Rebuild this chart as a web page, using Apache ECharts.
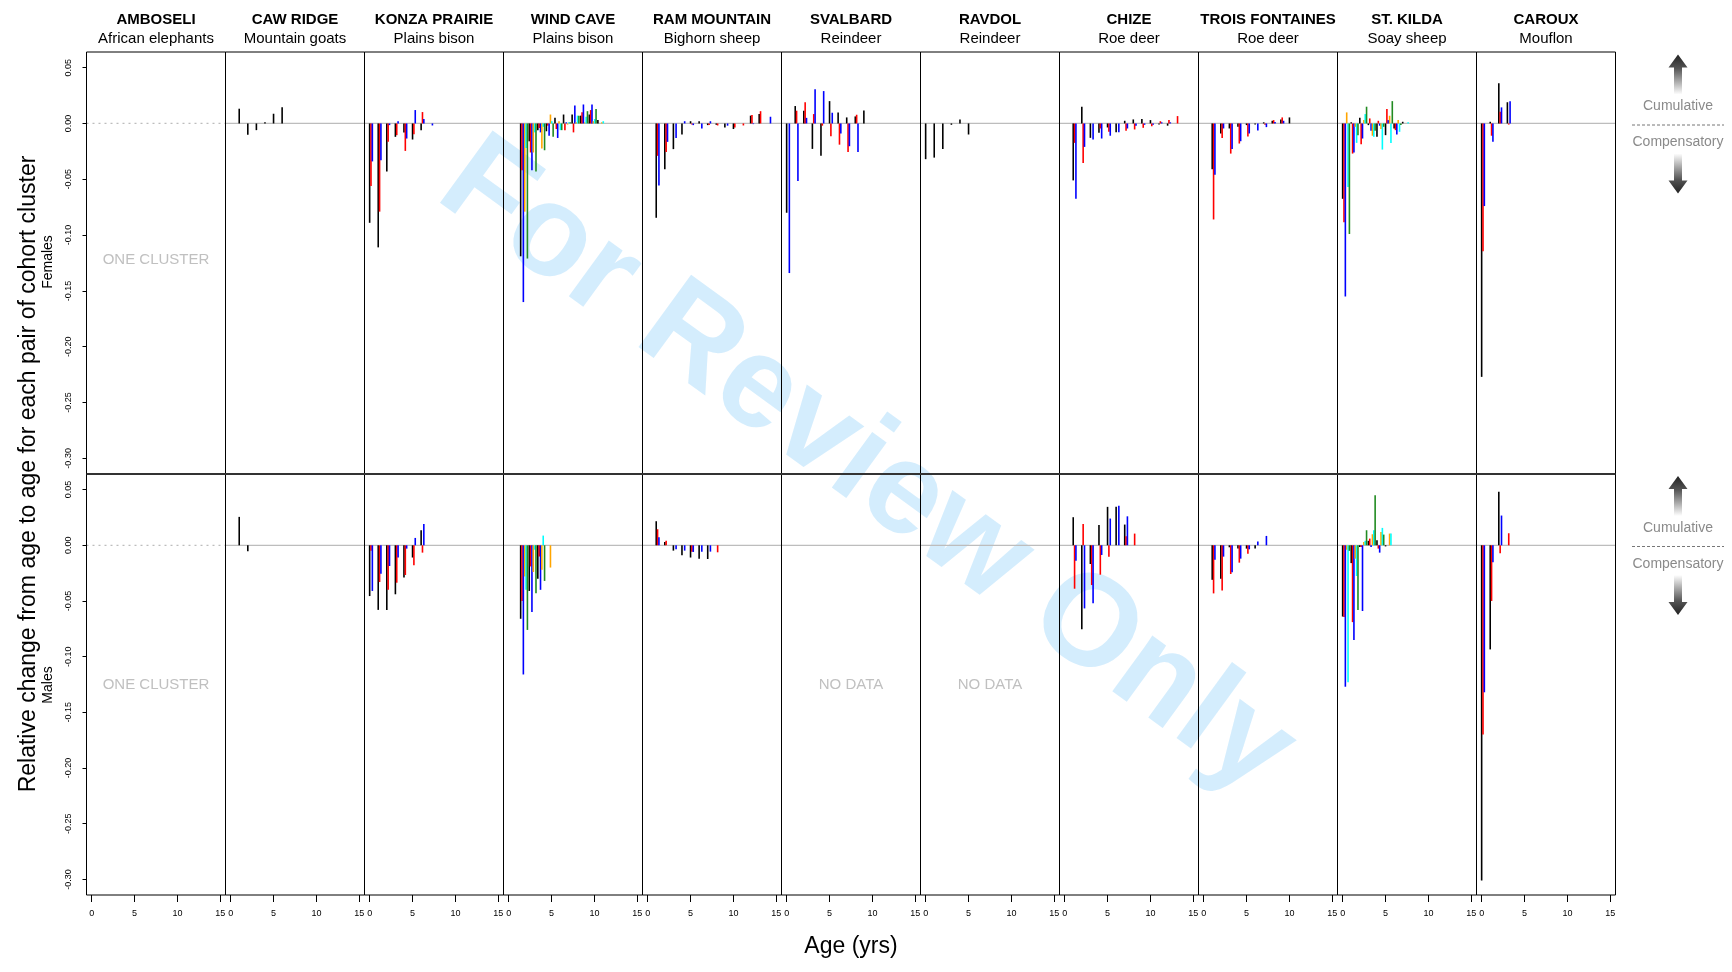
<!DOCTYPE html>
<html>
<head>
<meta charset="utf-8">
<script src="https://cdn.jsdelivr.net/npm/echarts@6/dist/echarts.min.js"></script>
<style>
  html, body { margin: 0; padding: 0; background: #ffffff; }
  #chart { width: 1732px; height: 972px; }
</style>
</head>
<body>
<div id="chart"></div>
<script>
// Study sites (columns) and species
const sites = ['AMBOSELI', 'CAW RIDGE', 'KONZA PRAIRIE', 'WIND CAVE', 'RAM MOUNTAIN', 'SVALBARD',
  'RAVDOL', 'CHIZE', 'TROIS FONTAINES', 'ST. KILDA', 'CAROUX'];
const species = ['African elephants', 'Mountain goats', 'Plains bison', 'Plains bison', 'Bighorn sheep',
  'Reindeer', 'Reindeer', 'Roe deer', 'Roe deer', 'Soay sheep', 'Mouflon'];

// Axis ticks
const ageTicks = [0, 5, 10, 15];
const changeTicks = [0.05, 0.00, -0.05, -0.10, -0.15, -0.20, -0.25, -0.30];

// Cohort-cluster pairs, in drawing order within each age
const pairOrder = ['black', 'red', 'blue', 'orange', 'cyan', 'green'];
const pairColors = ['#000000', '#ff0000', '#0000ff', '#ffa500', '#00ffff', '#228b22'];

// ---- Females: relative change from age to age (index 0 = firstAge) ----
const cawRidgeF = { firstAge: 1,
  black: [0.0132, -0.0102, -0.006, 0.001, 0.0087, 0.0144] };
const konzaF = { firstAge: 0,
  black: [-0.089, -0.111, -0.043, -0.012, -0.008, -0.0144, -0.006, null],
  red:   [-0.056, -0.079, -0.0165, -0.0105, -0.0246, -0.0096, 0.0102, null],
  blue:  [-0.034, -0.033, -0.0015, 0.002, -0.0135, 0.012, 0.004, -0.0018] };
const windCaveF = { firstAge: 1.4,
  black:  [-0.119, -0.016, -0.006, -0.007, 0.005, 0.008, 0.008, 0.007, 0.008, 0.003],
  red:    [-0.042, -0.026, -0.004, -0.002, -0.005, -0.006, -0.008, 0.010, 0.012, null],
  blue:   [-0.160, -0.042, -0.008, -0.011, -0.013, 0.001, 0.016, 0.017, 0.017, null],
  orange: [-0.079, -0.026, -0.0225, 0.008, 0.002, -0.001, 0.001, 0.001, 0.002, 0.001],
  cyan:   [-0.022, -0.008, -0.003, 0.002, -0.006, 0.001, 0.007, 0.006, 0.004, 0.002],
  green:  [-0.121, -0.043, -0.024, -0.012, -0.006, 0.001, 0.007, 0.011, 0.013, null] };
const ramMountainF = { firstAge: 1,
  black: [-0.0845, -0.041, -0.023, -0.010, 0.002, 0.002, -0.0015, -0.0012, -0.0036, -0.005, null, 0.007, 0.0084, null],
  red:   [-0.029, -0.0255, null, null, -0.001, null, -0.0015, -0.0018, null, -0.0036, -0.0018, 0.0075, 0.011, null],
  blue:  [-0.0555, -0.0165, -0.013, 0.002, -0.0015, -0.0045, 0.002, null, -0.002, null, null, -0.0006, null, 0.006] };
const svalbardF = { firstAge: 0,
  black: [-0.080, 0.0156, 0.0114, -0.0228, -0.029, 0.020, 0.0099, 0.0054, 0.0063, 0.0117],
  red:   [null, 0.0114, 0.019, 0.0084, -0.002, -0.0114, -0.019, -0.0255, 0.0078, null],
  blue:  [-0.134, -0.0516, 0.005, 0.0306, 0.029, 0.0096, -0.009, -0.0204, -0.0255, null] };
const ravdolF = { firstAge: 0,
  black: [-0.032, -0.0306, -0.0228, -0.0012, 0.0036, -0.0099] };
const chizeF = { firstAge: 1,
  black: [-0.051, 0.015, -0.0129, -0.0084, -0.0036, -0.0078, 0.0024, 0.0036, 0.0039, 0.003, -0.001, -0.002, null],
  red:   [-0.0174, -0.0354, null, -0.0045, -0.0075, null, -0.0066, -0.0054, -0.0039, -0.0024, 0.002, 0.003, 0.0066],
  blue:  [-0.0675, -0.021, -0.0144, -0.0135, -0.011, -0.0078, -0.0045, -0.0021, -0.0012, -0.0012, 0.001, 0.001, null] };
const troisFontainesF = { firstAge: 1,
  black: [-0.041, -0.009, -0.0045, -0.003, -0.0015, -0.001, 0.001, 0.0024, 0.0036, 0.0054],
  red:   [-0.086, -0.013, -0.027, -0.018, -0.0117, null, -0.0012, 0.003, 0.0054, null],
  blue:  [-0.046, -0.0045, -0.0228, -0.0159, -0.009, -0.0063, -0.0033, 0.0012, 0.0024, null] };
const stKildaF = { firstAge: 0,
  black:  [-0.0675, 0.001, 0.005, -0.0015, -0.012, -0.0105, -0.0045, 0.0015],
  red:    [-0.0884, -0.027, -0.0186, 0.0045, 0.0024, 0.0129, -0.006, null],
  blue:   [-0.155, -0.026, -0.0135, -0.0066, -0.002, 0.003, -0.0099, null],
  orange: [0.0099, -0.003, 0.003, -0.011, -0.005, 0.0069, 0.003, null],
  cyan:   [-0.057, -0.0174, 0.0084, -0.012, -0.0234, -0.0174, -0.0075, 0.001],
  green:  [-0.099, -0.0105, 0.015, -0.0066, -0.003, 0.020, -0.0015, null] };
const carouxF = { firstAge: 0,
  black: [-0.227, 0.0015, 0.036, 0.019],
  red:   [-0.1145, -0.011, 0.0105, -0.001],
  blue:  [-0.074, -0.0165, 0.0144, 0.0198] };

// ---- Males ----
const cawRidgeM = { firstAge: 1, black: [0.0255, -0.0054] };
const konzaM = { firstAge: 0,
  black: [-0.0456, -0.058, -0.058, -0.044, -0.029, -0.011, 0.0135],
  red:   [-0.005, -0.033, -0.040, -0.0336, -0.0267, -0.018, -0.0066],
  blue:  [-0.041, -0.0255, -0.0186, -0.011, -0.003, 0.0066, 0.019] };
const windCaveM = { firstAge: 1.4,
  black:  [-0.066, -0.041, -0.030, null],
  red:    [-0.050, -0.019, -0.010, null],
  blue:   [-0.116, -0.060, -0.040, null],
  orange: [-0.028, -0.024, -0.022, -0.020],
  cyan:   [-0.040, -0.004, 0.0087, null],
  green:  [-0.076, -0.043, -0.032, null] };
const ramMountainM = { firstAge: 1,
  black: [0.0216, 0.003, -0.0048, -0.009, -0.011, -0.012, -0.0123, null],
  red:   [0.0144, 0.004, null, null, -0.0057, null, null, -0.0063],
  blue:  [0.0072, null, -0.0036, -0.0048, -0.006, -0.0057, -0.0057, null] };
const chizeM = { firstAge: 1,
  black: [0.0252, -0.0755, -0.0168, 0.0183, 0.0345, 0.0345, 0.0186, null],
  red:   [-0.039, 0.019, -0.0357, -0.0264, -0.0102, null, 0.0081, 0.0105],
  blue:  [-0.014, -0.0567, -0.052, -0.0087, 0.024, 0.0354, 0.026, null] };
const troisFontainesM = { firstAge: 1,
  black: [-0.031, -0.030, -0.0018, -0.003, -0.003, -0.003, null],
  red:   [-0.0432, -0.0405, -0.0258, -0.0156, -0.0075, null, null],
  blue:  [-0.0129, -0.0102, -0.0243, -0.012, -0.0036, 0.0033, 0.0084] };
const stKildaM = { firstAge: 0,
  black:  [-0.064, -0.016, -0.0015, 0.004, 0.0045, -0.001],
  red:    [-0.0645, -0.069, -0.0015, 0.006, -0.003, null],
  blue:   [-0.127, -0.085, -0.059, -0.0015, -0.0066, null],
  orange: [-0.004, -0.012, 0.003, 0.0099, 0.012, 0.0105],
  cyan:   [-0.123, -0.0276, 0.004, 0.0135, 0.0156, 0.0105],
  green:  [-0.005, -0.058, 0.0135, 0.045, 0.0096, null] };
const carouxM = { firstAge: 0,
  black: [-0.301, -0.0935, 0.048, null],
  red:   [-0.170, -0.050, -0.0072, 0.0108],
  blue:  [-0.132, -0.0153, 0.0267, null] };

const femalesPanels = [null, cawRidgeF, konzaF, windCaveF, ramMountainF, svalbardF, ravdolF,
  chizeF, troisFontainesF, stKildaF, carouxF];
const malesPanels = [null, cawRidgeM, konzaM, windCaveM, ramMountainM, null, null,
  chizeM, troisFontainesM, stKildaM, carouxM];
const femalesNotes = ['ONE CLUSTER', '', '', '', '', '', '', '', '', '', ''];
const malesNotes = ['ONE CLUSTER', '', '', '', '', 'NO DATA', 'NO DATA', '', '', '', ''];

// ---- Layout ----
const PLOT_LEFT = 86.5, PANEL_W = 139;
const ROW_TOP = [52, 474], ROW_H = [422, 421];
const X_MIN = -0.6, X_MAX = 15.6, Y_MIN = -0.314, Y_MAX = 0.064;
const BAR_W = 1.6, BAR_STEP = 1.35;
const FONT = '"Liberation Sans", Arial, Helvetica, sans-serif';

const grids = [], xAxes = [], yAxes = [], series = [], graphics = [];

function panelBars(panel) {
  const out = [];
  pairOrder.forEach((key, slot) => {
    const vals = panel[key];
    if (!vals) return;
    vals.forEach((v, i) => {
      if (v === null) return;
      out.push([panel.firstAge + i, v, slot, slot]);
    });
  });
  return out;
}

function renderBar(params, api) {
  const age = api.value(0), v = api.value(1), slot = api.value(2);
  const base = api.coord([age, 0]);
  const tip = api.coord([age, v]);
  const cx = base[0] + slot * BAR_STEP;
  const h = Math.max(Math.abs(tip[1] - base[1]), 0.6);
  return {
    type: 'rect',
    shape: { x: cx - BAR_W / 2, y: Math.min(base[1], tip[1]), width: BAR_W, height: h },
    style: { fill: pairColors[api.value(3)] }
  };
}

[femalesPanels, malesPanels].forEach((rowPanels, row) => {
  rowPanels.forEach((panel, col) => {
    const gi = grids.length;
    const isBottom = row === 1, isFirst = col === 0;
    grids.push({
      left: PLOT_LEFT + col * PANEL_W, top: ROW_TOP[row], width: PANEL_W, height: ROW_H[row],
      show: true, borderColor: '#000', borderWidth: 1, backgroundColor: 'transparent',
      containLabel: false, outerBoundsMode: 'none', z: 3
    });
    xAxes.push({
      gridIndex: gi, type: 'value', min: X_MIN, max: X_MAX, position: 'bottom',
      axisLine: { show: false, onZero: false }, splitLine: { show: false },
      axisTick: { show: isBottom, customValues: ageTicks, length: 7, lineStyle: { color: '#000', width: 1 } },
      axisLabel: { show: isBottom, customValues: ageTicks, fontSize: 9, color: '#000', margin: 14, fontFamily: FONT }
    });
    yAxes.push({
      gridIndex: gi, type: 'value', min: Y_MIN, max: Y_MAX, position: 'left',
      axisLine: { show: false, onZero: false }, splitLine: { show: false },
      axisTick: { show: isFirst, customValues: changeTicks, length: 4, lineStyle: { color: '#000', width: 1 } },
      axisLabel: { show: isFirst, customValues: changeTicks, rotate: 90, fontSize: 9, color: '#000',
        margin: 13, fontFamily: FONT, formatter: v => Number(v).toFixed(2) }
    });
    // reference line at zero
    series.push({
      type: 'line', xAxisIndex: gi, yAxisIndex: gi, data: [[X_MIN, 0], [X_MAX, 0]],
      symbol: 'none', silent: true, z: 2, animation: false,
      lineStyle: { color: '#bdbdbd', width: 1.3, type: panel || col !== 0 ? 'solid' : [2, 4] }
    });
    if (panel) {
      series.push({
        type: 'custom', xAxisIndex: gi, yAxisIndex: gi, data: panelBars(panel),
        encode: { x: 0, y: 1 }, renderItem: renderBar, silent: true, z: 4, animation: false
      });
    }
    const note = row === 0 ? femalesNotes[col] : malesNotes[col];
    if (note) {
      graphics.push({
        type: 'text', x: PLOT_LEFT + col * PANEL_W + PANEL_W / 2, y: row === 0 ? 260 : 685,
        style: { text: note, fill: '#c0c0c0', font: '15px ' + FONT, align: 'center', verticalAlign: 'middle' }
      });
    }
  });
});

// Column headings
sites.forEach((s, c) => {
  const cx = PLOT_LEFT + c * PANEL_W + PANEL_W / 2;
  graphics.push({ type: 'text', x: cx, y: 20,
    style: { text: s, fill: '#000', font: 'bold 15px ' + FONT, align: 'center', verticalAlign: 'middle' } });
  graphics.push({ type: 'text', x: cx, y: 39,
    style: { text: species[c], fill: '#000', font: '15px ' + FONT, align: 'center', verticalAlign: 'middle' } });
});

// Row divider between females and males
graphics.push({ type: 'line', shape: { x1: PLOT_LEFT, y1: 474, x2: PLOT_LEFT + 11 * PANEL_W, y2: 474 },
  style: { stroke: '#333', lineWidth: 2 }, z: 10 });

// Axis titles
graphics.push({ type: 'text', x: 28.5, y: 474, rotation: Math.PI / 2,
  style: { text: 'Relative change from age to age for each pair of cohort cluster', fill: '#000',
    font: '23px ' + FONT, align: 'center', verticalAlign: 'middle' } });
graphics.push({ type: 'text', x: 48.5, y: 262, rotation: Math.PI / 2,
  style: { text: 'Females', fill: '#000', font: '14px ' + FONT, align: 'center', verticalAlign: 'middle' } });
graphics.push({ type: 'text', x: 48.5, y: 685, rotation: Math.PI / 2,
  style: { text: 'Males', fill: '#000', font: '14px ' + FONT, align: 'center', verticalAlign: 'middle' } });
graphics.push({ type: 'text', x: 851, y: 947,
  style: { text: 'Age (yrs)', fill: '#000', font: '23px ' + FONT, align: 'center', verticalAlign: 'middle' } });

// Direction keys on the right of each row
function arrowKey(zeroY) {
  const cx = 1678;
  const up = zeroY - 69, down = zeroY + 70;
  graphics.push({ type: 'polygon', shape: { points: [
      [cx, up], [cx + 9.5, up + 13], [cx + 4, up + 13], [cx + 4, up + 40], [cx - 4, up + 40], [cx - 4, up + 13], [cx - 9.5, up + 13]] },
    style: { fill: { type: 'linear', x: 0, y: 0, x2: 0, y2: 1,
      colorStops: [{ offset: 0, color: '#222' }, { offset: 0.35, color: '#555' }, { offset: 1, color: '#ffffff' }] } } });
  graphics.push({ type: 'polygon', shape: { points: [
      [cx, down], [cx + 9.5, down - 13], [cx + 4, down - 13], [cx + 4, down - 40], [cx - 4, down - 40], [cx - 4, down - 13], [cx - 9.5, down - 13]] },
    style: { fill: { type: 'linear', x: 0, y: 0, x2: 0, y2: 1,
      colorStops: [{ offset: 0, color: '#ffffff' }, { offset: 0.65, color: '#555' }, { offset: 1, color: '#222' }] } } });
  graphics.push({ type: 'text', x: cx, y: zeroY - 17,
    style: { text: 'Cumulative', fill: '#8a8a8a', font: '14px ' + FONT, align: 'center', verticalAlign: 'middle' } });
  graphics.push({ type: 'text', x: cx, y: zeroY + 19,
    style: { text: 'Compensatory', fill: '#8a8a8a', font: '14px ' + FONT, align: 'center', verticalAlign: 'middle' } });
  graphics.push({ type: 'line', shape: { x1: 1632, y1: zeroY + 1.5, x2: 1724, y2: zeroY + 1.5 },
    style: { stroke: '#777', lineWidth: 1, lineDash: [3, 2] } });
}
arrowKey(123.5);
arrowKey(545);

// Watermark
graphics.push({ type: 'text', x: 866, y: 468, rotation: -36 * Math.PI / 180, z: -5,
  style: { text: 'For Review Only', fill: 'rgba(135, 206, 250, 0.36)', font: 'bold 130px ' + FONT,
    align: 'center', verticalAlign: 'middle' } });

const chart = echarts.init(document.getElementById('chart'), null, { renderer: 'canvas' });
chart.setOption({
  animation: false,
  backgroundColor: '#ffffff',
  grid: grids,
  xAxis: xAxes,
  yAxis: yAxes,
  series: series,
  graphic: { elements: graphics }
});
</script>
</body>
</html>
